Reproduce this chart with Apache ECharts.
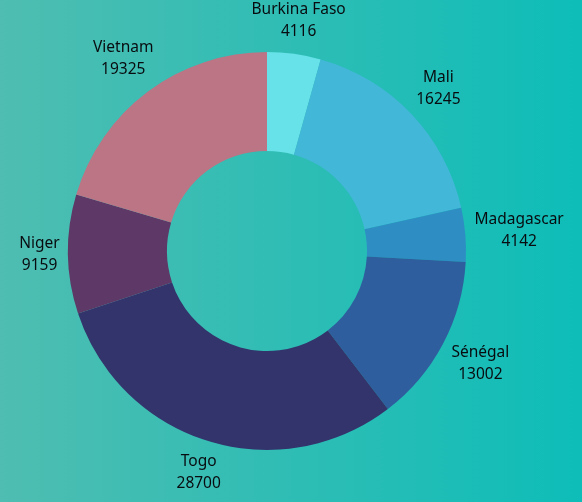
<!DOCTYPE html>
<html>
<head>
<meta charset="utf-8">
<script src="https://cdn.jsdelivr.net/npm/echarts@6/dist/echarts.min.js"></script>
<style>
  html, body { margin: 0; padding: 0; }
  #chart { width: 582px; height: 502px; }
</style>
</head>
<body>
<div id="chart"></div>
<script>
// Countries and their values, in clockwise order from 12 o'clock
const countries = ['Burkina Faso', 'Mali', 'Madagascar', 'Sénégal', 'Togo', 'Niger', 'Vietnam'];
const values = [4116, 16245, 4142, 13002, 28700, 9159, 19325];
const sliceColors = ['#66e2e8', '#42b7d8', '#2e8ec4', '#2f5e9e', '#33346c', '#5e3866', '#bb7585'];

const CENTER = [267, 251];
const INNER_R = 100;
const OUTER_R = 199;
const LABEL_GAP = 8;

const chart = echarts.init(document.getElementById('chart'), null, { renderer: 'canvas' });

// Labels sit just outside the ring, pushed out along the slice's mid direction
// until their box clears the outer edge.
function placeLabel(params) {
  const pts = params.labelLinePoints;
  const rect = params.labelRect;
  let ux, uy, bx, by;
  if (pts && pts.length >= 2) {
    bx = pts[0][0]; by = pts[0][1];
    const dx = pts[1][0] - pts[0][0], dy = pts[1][1] - pts[0][1];
    const len = Math.hypot(dx, dy) || 1;
    ux = dx / len; uy = dy / len;
  } else {
    const total = values.reduce((a, b) => a + b, 0);
    let before = 0;
    for (let i = 0; i < params.dataIndex; i++) before += values[i];
    const mid = (before + values[params.dataIndex] / 2) / total * Math.PI * 2;
    ux = Math.sin(mid); uy = -Math.cos(mid);
    bx = CENTER[0] + OUTER_R * ux; by = CENTER[1] + OUTER_R * uy;
  }
  const half = Math.abs(ux) * rect.width / 2 + Math.abs(uy) * rect.height / 2;
  const d = LABEL_GAP + half;
  return { x: bx + ux * d, y: by + uy * d, align: 'center', verticalAlign: 'middle' };
}

const textStyle = { align: 'center', fontFamily: 'Noto Sans', fontSize: 15.5, color: '#080c10', lineHeight: 22 };

chart.setOption({
  backgroundColor: new echarts.graphic.LinearGradient(0, 0, 1, 0, [
    { offset: 0, color: '#4fbdb1' },
    { offset: 1, color: '#0ebdb8' }
  ]),
  animation: false,
  series: [{
    type: 'pie',
    center: CENTER,
    radius: [INNER_R, OUTER_R],
    startAngle: 90,
    clockwise: true,
    avoidLabelOverlap: false,
    itemStyle: { borderWidth: 0 },
    label: {
      show: true,
      position: 'outside',
      formatter: p => '{n|' + p.name + '}\n{v|' + p.value + '}',
      rich: { n: textStyle, v: textStyle }
    },
    labelLine: { show: true, length: 10, length2: 0, lineStyle: { opacity: 0, width: 0 } },
    labelLayout: placeLabel,
    data: countries.map((c, i) => ({ name: c, value: values[i], itemStyle: { color: sliceColors[i] } }))
  }]
});
</script>
</body>
</html>
